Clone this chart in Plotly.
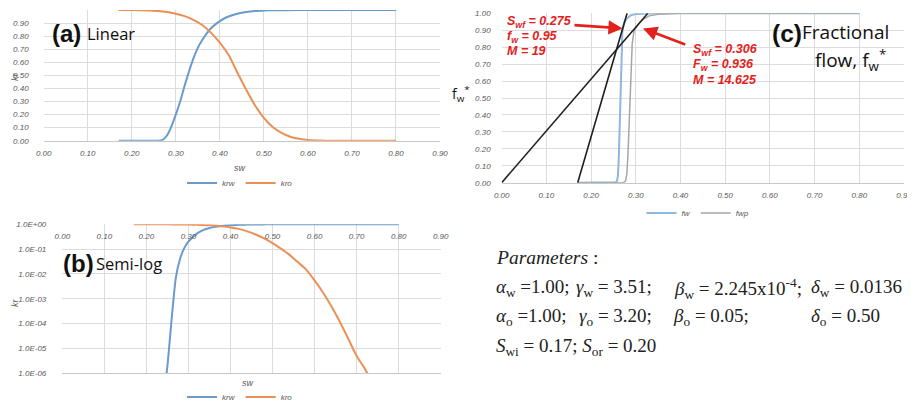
import plotly.graph_objects as go

# The page body keeps the browser's default 8px margin, so the figure is sized to
# the window minus that margin and every target pixel position is shifted by it.
WIN_W, WIN_H = 915, 404
OFF = 8
W, H = WIN_W - OFF, WIN_H - OFF

# ---------------- data ----------------
krw_sw = [0.17, 0.20, 0.24, 0.25, 0.26, 0.27, 0.28, 0.29, 0.30, 0.31, 0.32, 0.33, 0.34, 0.35,
          0.36, 0.37, 0.38, 0.39, 0.40, 0.41, 0.42, 0.43, 0.44, 0.45, 0.46, 0.47, 0.48, 0.49,
          0.50, 0.52, 0.55, 0.60, 0.70, 0.80]
krw = [1e-12, 1e-10, 1e-7, 2e-6, 1.5e-4, 7e-3, 0.04, 0.11, 0.20, 0.30, 0.42, 0.53, 0.63, 0.71,
       0.77, 0.82, 0.86, 0.89, 0.915, 0.935, 0.95, 0.962, 0.972, 0.979, 0.985, 0.989, 0.992, 0.994,
       0.996, 0.998, 0.999, 1.0, 1.0, 1.0]

kro_sw = [0.17, 0.20, 0.25, 0.28, 0.30, 0.32, 0.34, 0.36, 0.38, 0.40, 0.42, 0.44, 0.46, 0.48,
          0.50, 0.52, 0.54, 0.56, 0.58, 0.60, 0.62, 0.64, 0.66, 0.68, 0.70, 0.72, 0.74, 0.76,
          0.78, 0.80]
kro = [1.0, 1.0, 0.995, 0.985, 0.972, 0.953, 0.925, 0.885, 0.825, 0.75, 0.655, 0.52, 0.39, 0.27,
       0.175, 0.105, 0.06, 0.03, 0.015, 5.5e-3, 1.8e-3, 5e-4, 1.2e-4, 2.5e-5, 5e-6, 1.5e-6, 3e-7,
       5e-8, 7e-9, 1e-9]

fw_sw = [0.17, 0.250, 0.255, 0.258, 0.260, 0.262, 0.264, 0.266, 0.268, 0.270, 0.272, 0.275,
         0.280, 0.290, 0.300, 0.320, 0.350, 0.80]
fw = [0.0, 0.0, 0.002, 0.01, 0.04, 0.15, 0.38, 0.62, 0.80, 0.89, 0.92, 0.95,
      0.97, 0.99, 0.996, 0.999, 1.0, 1.0]

fwp_sw = [0.17, 0.272, 0.277, 0.280, 0.283, 0.286, 0.289, 0.292, 0.296, 0.300, 0.306, 0.315,
          0.330, 0.350, 0.400, 0.80]
fwp = [0.0, 0.0, 0.01, 0.05, 0.20, 0.45, 0.68, 0.82, 0.895, 0.915, 0.936, 0.962,
       0.985, 0.995, 1.0, 1.0]

# tangent construction parameters
swi = 0.17
swf_a, fw_a = 0.275, 0.95      # tangent from Swi
swf_b, fw_b = 0.306, 0.936     # tangent from origin

lin_ticks = [0.0, 0.1, 0.2, 0.3, 0.4, 0.5, 0.6, 0.7, 0.8, 0.9]
kr_ticks = [0.0, 0.1, 0.2, 0.3, 0.4, 0.5, 0.6, 0.7, 0.8, 0.9, 1.0]
log_tickvals = [1, 1e-1, 1e-2, 1e-3, 1e-4, 1e-5, 1e-6]
log_ticktext = ["1.0E+00", "1.0E-01", "1.0E-02", "1.0E-03", "1.0E-04", "1.0E-05", "1.0E-06"]

param_rows = [
    [("<i>α</i><sub>w</sub> =1.00;", 495), ("<i>γ</i><sub>w</sub> = 3.51;", 575),
     ("<i>β</i><sub>w</sub> = 2.245x10<sup>-4</sup>;", 673), ("<i>δ</i><sub>w</sub> = 0.0136", 810)],
    [("<i>α</i><sub>o</sub> =1.00;", 495), ("<i>γ</i><sub>o</sub> = 3.20;", 578),
     ("<i>β</i><sub>o</sub> = 0.05;", 672), ("<i>δ</i><sub>o</sub> = 0.50", 810)],
    [("<i>S</i><sub>wi</sub> = 0.17; <i>S</i><sub>or</sub> = 0.20", 495)],
]
param_row_y = [288, 317, 347]

# ---------------- style ----------------
BLUE = "#6A9BCB"
ORANGE = "#EA9056"
FW_BLUE = "#8FB7DD"
FWP_GRAY = "#A6A6A6"
GRID = "#DCDCDC"
TICK = "#595959"
RED = "#E3211C"
SANS = "Liberation Sans, Arial, sans-serif"
OPEN = "Open Sans, sans-serif"
SERIF = "Liberation Serif, Times New Roman, serif"


def fx(x):
    return (x - OFF) / W


def fy(y):
    return 1 - (y - OFF) / H


def px(x, y):
    return fx(x), fy(y)


tickfont = dict(family=SANS, size=8, color=TICK, style="italic")

fig = go.Figure()

spl = dict(width=2, shape="spline", smoothing=0.6)
# (a) linear
fig.add_trace(go.Scatter(x=krw_sw, y=krw, xaxis="x", yaxis="y", name="krw", mode="lines",
                         line=dict(color=BLUE, **spl), legend="legend", hoverinfo="skip"))
fig.add_trace(go.Scatter(x=kro_sw, y=kro, xaxis="x", yaxis="y", name="kro", mode="lines",
                         line=dict(color=ORANGE, **spl), legend="legend", hoverinfo="skip"))
# (b) semi-log
fig.add_trace(go.Scatter(x=krw_sw, y=krw, xaxis="x2", yaxis="y2", name="krw", mode="lines",
                         line=dict(color=BLUE, **spl), legend="legend2", hoverinfo="skip"))
fig.add_trace(go.Scatter(x=kro_sw, y=kro, xaxis="x2", yaxis="y2", name="kro", mode="lines",
                         line=dict(color=ORANGE, **spl), legend="legend2", hoverinfo="skip"))
# invisible carrier for the inner tick-label axis of (b)
fig.add_trace(go.Scatter(x=[krw_sw[0]], y=[kro[0]], xaxis="x4", yaxis="y2", mode="markers",
                         marker=dict(opacity=0), showlegend=False, hoverinfo="skip"))
# (c) fractional flow
fig.add_trace(go.Scatter(x=fw_sw, y=fw, xaxis="x3", yaxis="y3", name="fw", mode="lines",
                         line=dict(color=FW_BLUE, width=2), legend="legend3", hoverinfo="skip"))
fig.add_trace(go.Scatter(x=fwp_sw, y=fwp, xaxis="x3", yaxis="y3", name="fwp", mode="lines",
                         line=dict(color=FWP_GRAY, width=1.5), legend="legend3", hoverinfo="skip"))
# tangent lines
slope_a = fw_a / (swf_a - swi)
slope_b = fw_b / swf_b
fig.add_trace(go.Scatter(x=[0.0, 1.0 / slope_b], y=[0.0, 1.0], xaxis="x3", yaxis="y3",
                         mode="lines", line=dict(color="#1E1E1E", width=1.6), showlegend=False,
                         hoverinfo="skip"))
fig.add_trace(go.Scatter(x=[swi, swi + 1.0 / slope_a], y=[0.0, 1.0], xaxis="x3", yaxis="y3",
                         mode="lines", line=dict(color="#1E1E1E", width=1.6), showlegend=False,
                         hoverinfo="skip"))

common_x = dict(range=[0, 0.9], tickvals=lin_ticks, tickformat=".2f", showgrid=True,
                gridcolor=GRID, gridwidth=1, zeroline=False, ticks="", tickfont=tickfont,
                showline=True, linecolor="#C8C8C8", linewidth=1, fixedrange=True,
                automargin=False)
common_y = dict(showgrid=True, gridcolor=GRID, gridwidth=1, zeroline=False, ticks="",
                tickfont=tickfont, showline=False, fixedrange=True, automargin=False)

legend_common = dict(orientation="h", xanchor="center", yanchor="middle",
                     font=dict(family=SANS, size=8, color=TICK, style="italic"),
                     bgcolor="rgba(0,0,0,0)", itemwidth=30, tracegroupgap=0)

B_TOP = 224.3
fig.update_layout(
    width=W, height=H,
    margin=dict(l=0, r=0, t=0, b=0, autoexpand=False),
    paper_bgcolor="white", plot_bgcolor="white",
    xaxis=dict(domain=[fx(43.7), fx(440)], anchor="y", ticklabelstandoff=5, **common_x),
    yaxis=dict(domain=[fy(140.7), fy(10)], anchor="x", range=[0, 1],
               tickvals=kr_ticks, tickformat=".2f", ticklabelstandoff=14, **common_y),
    xaxis2=dict(domain=[fx(62.3), fx(440.7)], anchor="y2", showticklabels=False, **common_x),
    xaxis4=dict(overlaying="x2", anchor="free", position=fy(B_TOP + 2), side="bottom",
                range=[0, 0.9], tickvals=lin_ticks, tickformat=".2f", showgrid=False,
                zeroline=False, showline=False, ticks="", tickfont=tickfont,
                ticklabelstandoff=4, fixedrange=True, automargin=False),
    yaxis2=dict(domain=[fy(373.3), fy(B_TOP)], anchor="x2", type="log", range=[-6, 0],
                tickvals=log_tickvals, ticktext=log_ticktext, ticklabelstandoff=15, **common_y),
    xaxis3=dict(domain=[fx(501.7), fx(904)], anchor="y3", ticklabelstandoff=5, **common_x),
    yaxis3=dict(domain=[fy(182.7), fy(13.3)], anchor="x3", range=[0, 1],
                tickvals=kr_ticks, tickformat=".2f", ticklabelstandoff=10, **common_y),
    legend=dict(x=fx(240), y=fy(183), **legend_common),
    legend2=dict(x=fx(240), y=fy(397), **legend_common),
    legend3=dict(x=fx(698), y=fy(213), **legend_common),
    showlegend=True,
)

ann = []


def text_at(x, y, text, size, color="black", family=SANS, xanchor="left", angle=0, **kw):
    xp, yp = px(x, y)
    ann.append(dict(x=xp, y=yp, xref="paper", yref="paper", text=text, showarrow=False,
                    xanchor=xanchor, yanchor="middle", textangle=angle, borderpad=0,
                    font=dict(size=size, color=color, family=family, **kw), align="left"))


# axis titles
text_at(240, 168, "sw", 9, TICK, xanchor="center", style="italic")
text_at(15, 77, "kr", 9, TICK, xanchor="center", angle=-90, style="italic")
text_at(248, 383, "sw", 9, TICK, xanchor="center", style="italic")
text_at(15, 303, "kr", 9, TICK, xanchor="center", angle=-90, style="italic")
text_at(461, 94, "f<sub>w</sub><sup>*</sup>", 14, "#111", xanchor="center", family=OPEN)

# panel labels
text_at(51, 33, "<b>(a)</b>", 24, "#111")
text_at(86, 34, "Linear", 16.5, "#111", family=OPEN)
text_at(62, 263, "<b>(b)</b>", 24, "#111")
text_at(95, 263, "Semi-log", 16.5, "#111", family=OPEN)
text_at(771, 33, "<b>(c)</b>", 24.5, "#111")
text_at(845, 32, "Fractional", 19, "#111", family=OPEN, xanchor="center")
text_at(850, 60, "flow, f<sub>w</sub><sup>*</sup>", 19, "#111", family=OPEN,
        xanchor="center")

# red labels
red_a = ["<b><i>S<sub>wf</sub> = 0.275</i></b>", "<b><i>f<sub>w</sub> = 0.95</i></b>",
         "<b><i>M = 19</i></b>"]
red_b = ["<b><i>S<sub>wf</sub> = 0.306</i></b>", "<b><i>F<sub>w</sub> = 0.936</i></b>",
         "<b><i>M = 14.625</i></b>"]
for i, t in enumerate(red_a):
    text_at(506, 22 + 14.6 * i, t, 12.5, RED)
for i, t in enumerate(red_b):
    text_at(692, 50 + 15 * i, t, 12.5, RED)

# red arrows
for head, tail in [((0.2707, 0.911), (0.1595, 0.931)), ((0.316, 0.911), (0.414, 0.813))]:
    ann.append(dict(x=head[0], y=head[1], ax=tail[0], ay=tail[1], xref="x3", yref="y3",
                    axref="x3", ayref="y3", text="", showarrow=True, arrowhead=2,
                    arrowsize=1.1, arrowwidth=2.6, arrowcolor=RED, standoff=0))

# parameters block
text_at(495, 258, "<i>Parameters</i> :", 19.5, "#222", family=SERIF)
for row, yy in zip(param_rows, param_row_y):
    for t, xx in row:
        text_at(xx, yy, t, 19, "#222", family=SERIF)

fig.update_layout(annotations=ann)

fig.write_html("out.html")
